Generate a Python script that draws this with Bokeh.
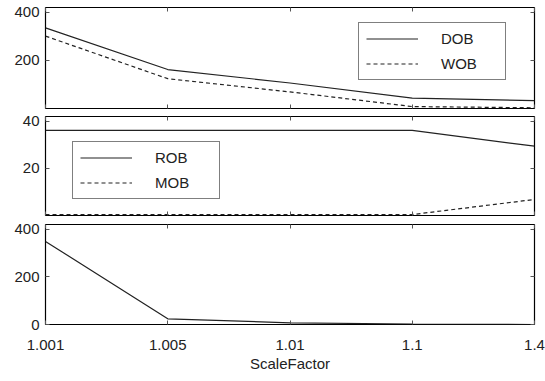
from bokeh.plotting import figure
from bokeh.layouts import column
from bokeh.models import Range1d, LinearAxis, FixedTicker, Legend, LegendItem
from bokeh.embed import file_html
from bokeh.resources import INLINE

# ---- data ----
scale_factor = ["1.001", "1.005", "1.01", "1.1", "1.4"]
dob = [335, 162, 106, 43, 33]
wob = [301, 124, 69, 8, 3]
rob = [36.1, 36.1, 36.1, 36.1, 29.4]
mob = [0.4, 0.4, 0.4, 0.4, 6.8]
third = [349, 24, 7, 2, 0]
ticks_top = [200, 400]
ticks_mid = [20, 40]
ticks_bot = [0, 200, 400]

x = list(range(len(scale_factor)))
FONT = "Liberation Sans"
FS = "15px"
W = 545
LINE = "#222222"


def make_fig(height, top, bottom, y_end, yticks, show_x):
    p = figure(width=W, height=height, x_range=Range1d(0, len(scale_factor) - 1),
               y_range=Range1d(0, y_end), output_backend="svg", toolbar_location=None,
               min_border_left=45, min_border_right=11, min_border_top=top,
               min_border_bottom=bottom, x_axis_location=None, y_axis_location=None)
    p.grid.visible = False
    p.outline_line_color = "black"
    p.outline_line_width = 1.2
    p.background_fill_color = "white"
    p.border_fill_color = "white"

    def style(ax, labels):
        ax.major_tick_in = 4
        ax.major_tick_out = 0
        ax.minor_tick_line_color = None
        ax.major_tick_line_color = "#555555"
        ax.axis_line_color = None
        ax.major_label_text_font = FONT
        ax.major_label_text_font_size = FS
        if labels:
            ax.major_label_text_color = "#222222"
        else:
            ax.major_label_text_color = None
            ax.major_label_standoff = 0

    overrides = {i: s for i, s in zip(x, scale_factor)}
    bx = LinearAxis(ticker=FixedTicker(ticks=x), major_label_overrides=overrides)
    style(bx, show_x)
    if show_x:
        bx.major_label_standoff = 15
        bx.axis_label = "ScaleFactor"
        bx.axis_label_text_font = FONT
        bx.axis_label_text_font_size = FS
        bx.axis_label_text_font_style = "normal"
        bx.axis_label_text_color = "#222222"
        bx.axis_label_standoff = 2
    p.add_layout(bx, "below")
    tx = LinearAxis(ticker=FixedTicker(ticks=x))
    style(tx, False)
    p.add_layout(tx, "above")

    ly = LinearAxis(ticker=FixedTicker(ticks=yticks))
    style(ly, True)
    ly.major_label_standoff = 6
    p.add_layout(ly, "left")
    ry = LinearAxis(ticker=FixedTicker(ticks=yticks))
    style(ry, False)
    p.add_layout(ry, "right")
    return p


def style_legend(leg):
    leg.padding = 7
    leg.margin = 0
    leg.spacing = 8
    leg.glyph_width = 52
    leg.glyph_height = 17
    leg.label_standoff = 23
    leg.label_width = 57
    leg.label_text_font = FONT
    leg.label_text_font_size = FS
    leg.label_text_color = "#222222"
    leg.border_line_color = "black"
    leg.border_line_width = 1.2
    leg.background_fill_alpha = 1.0


# ---- panel 1 ----
p1 = make_fig(111, 7, 3, 420, ticks_top, False)
r_dob = p1.line(x, dob, line_color=LINE, line_width=1.2)
r_wob = p1.line(x, wob, line_color=LINE, line_width=1.2, line_dash="4 3")
leg1 = Legend(items=[LegendItem(label="DOB", renderers=[r_dob]),
                     LegendItem(label="WOB", renderers=[r_wob])],
              location=(313, 28))
style_legend(leg1)
p1.add_layout(leg1, "center")

# ---- panel 2 ----
p2 = make_fig(108, 5, 4, 42, ticks_mid, False)
r_rob = p2.line(x, rob, line_color=LINE, line_width=1.2)
r_mob = p2.line(x, mob, line_color=LINE, line_width=1.2, line_dash="4 3")
leg2 = Legend(items=[LegendItem(label="ROB", renderers=[r_rob]),
                     LegendItem(label="MOB", renderers=[r_mob])],
              location=(27, 16))
style_legend(leg2)
p2.add_layout(leg2, "center")

# ---- panel 3 ----
p3 = make_fig(155, 5, 50, 420, ticks_bot, True)
p3.line(x, third, line_color=LINE, line_width=1.2)

layout = column(p1, p2, p3, spacing=0)
open("out.html", "w").write(file_html(layout, INLINE))
